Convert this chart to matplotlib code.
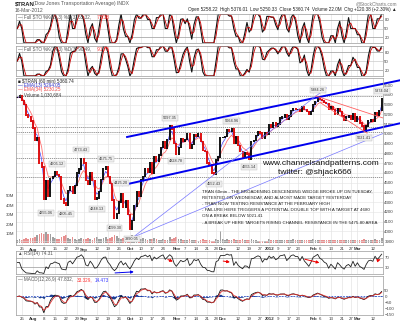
import numpy as np
import pandas as pd
import matplotlib
matplotlib.use('Agg')
import matplotlib.pyplot as plt

plt.rcParams['font.family'] = ['Liberation Sans', 'DejaVu Sans']

# $TRAN closes, one per trading day, 21-Jul-2011 .. 16-Mar-2012
jul = [5370, 5390, 5340, 5300, 5190, 5170, 5130]
aug = [5060, 4930, 4960, 4700, 4660, 4330, 4520, 4360, 4540, 4560, 4610, 4580,
       4560, 4330, 4290, 4270, 4420, 4460, 4390, 4470, 4600, 4640, 4740]
sep = [4700, 4520, 4480, 4600, 4520, 4330, 4340, 4410, 4530, 4640, 4660, 4560,
       4490, 4320, 4130, 4180, 4300, 4380, 4250, 4310, 4170]
oct_ = [4020, 4110, 4260, 4400, 4360, 4530, 4560, 4640, 4610, 4700, 4600, 4760,
        4720, 4780, 4860, 4920, 4850, 4940, 5080, 5050, 4900]
nov = [4790, 4860, 4950, 4920, 4940, 5000, 4850, 4890, 4990, 4970, 5000, 4920,
       4830, 4820, 4700, 4680, 4600, 4590, 4730, 4760, 4960]
dec = [4960, 4970, 5040, 5030, 5050, 4900, 4970, 4880, 4820, 4760, 4800, 4790,
       4740, 4920, 4930, 4980, 5020, 5010, 4950, 5010, 5000]
jan = [5090, 5070, 5110, 5080, 5100, 5160, 5170, 5190, 5150, 5180, 5240, 5260,
       5250, 5250, 5230, 5280, 5250, 5230, 5200, 5230]
feb = [5300, 5330, 5380, 5350, 5340, 5320, 5310, 5250, 5280, 5250, 5200, 5260,
       5230, 5180, 5140, 5170, 5180, 5150, 5200, 5130]
mar = [5170, 5110, 5080, 5030, 5080, 5130, 5140, 5130, 5220, 5190, 5240, 5360]
closes = jul + aug + sep + oct_ + nov + dec + jan + feb + mar

# volume per bar, millions
volume = ([3, 4, 3, 4, 5, 4, 5] +
          [5, 6, 8, 9, 11, 9, 12, 10, 9, 6, 5, 4, 4, 6, 7, 8, 5, 4, 6, 4, 3, 4, 5] +
          [4, 4, 5, 4, 3, 5, 6, 4, 4, 5, 6, 4, 5, 6, 8, 7, 5, 4, 5, 4, 6] +
          [7, 8, 6, 5, 4, 4, 5, 4, 3, 4, 4, 5, 4, 3, 3, 4, 3, 3, 6, 4, 5] +
          [6, 4, 4, 3, 3, 3, 4, 3, 3, 3, 2, 3, 4, 3, 3, 3, 2, 2, 4, 3, 13] +
          [4, 3, 4, 3, 3, 4, 3, 3, 3, 4, 3, 3, 3, 4, 3, 3, 2, 2, 2, 2, 2] +
          [4, 3, 3, 3, 3, 3, 3, 3, 3, 3, 3, 4, 3, 3, 3, 3, 3, 3, 3, 3] +
          [4, 3, 3, 3, 3, 3, 3, 3, 3, 3, 3, 3, 3, 3, 3, 3, 3, 3, 3, 3] +
          [3, 3, 3, 4, 3, 3, 3, 3, 4, 3, 3, 5])

holidays = ['2011-09-05', '2011-11-24', '2011-12-26', '2012-01-02', '2012-01-16', '2012-02-20']
days = pd.bdate_range('2011-07-21', '2012-03-16')
days = days[~days.isin(pd.to_datetime(holidays))]

tick_dates = ['2011-07-25', '2011-08-01', '2011-08-08', '2011-08-15', '2011-08-22', '2011-08-29',
              '2011-09-01', '2011-09-12', '2011-09-19', '2011-09-26', '2011-10-03', '2011-10-10',
              '2011-10-17', '2011-10-24', '2011-11-01', '2011-11-07', '2011-11-14', '2011-11-21',
              '2011-11-28', '2011-12-01', '2011-12-12', '2011-12-19', '2011-12-27', '2012-01-03',
              '2012-01-09', '2012-01-17', '2012-01-23', '2012-02-01', '2012-02-06', '2012-02-13',
              '2012-02-21', '2012-02-27', '2012-03-01', '2012-03-12']
tick_text = ['25', 'Aug', '8', '15', '22', '29', 'Sep', '12', '19', '26', 'Oct', '10', '17', '24',
             'Nov', '7', '14', '21', '28', 'Dec', '12', '19', '27', '2012', '9', '17', '23',
             'Feb', '6', '13', '21', '27', 'Mar', '12']

# chart annotations: (date, price, text, above?)
notes = [('2011-08-09', 4255, '4255.06', False), ('2011-08-16', 4620, '4605.12', True),
         ('2011-08-22', 4240, '4205.45', False), ('2011-08-31', 4773, '4773.43', True),
         ('2011-09-12', 4290, '4248.13', False), ('2011-09-16', 4680, '4675.75', True),
         ('2011-09-22', 4100, '4099.30', False), ('2011-09-27', 4425, '4425.20', True),
         ('2011-10-04', 3990, '3990.05', False), ('2011-10-27', 5097, '5097.35', True),
         ('2011-11-01', 4790, '4828.78', False), ('2011-11-25', 4552, '4552.43', False),
         ('2011-12-07', 5065, '5064.96', True), ('2011-12-19', 4720, '4655.14', False),
         ('2012-02-03', 5384, '5384.26', True), ('2012-03-06', 5021, '5021.41', False),
         ('2012-03-16', 5374, '5374.04', True)]
levels = [5384.26, 5064.96, 5021.41, 4751, 4552.43]

comment = ["TRAN 60min - THE BROADENING DESCENDING WEDGE BROKE UP ON TUESDAY,",
           "RETESTED ON WEDNESDAY, AND ALMOST MADE TARGET YESTERDAY",
           "- TRAN NOW TESTING RESISTANCE AT THE FEBRUARY HIGH",
           "- FAILURE HERE TRIGGERS A POTENTIAL DOUBLE TOP WITH A TARGET AT 4680",
           "ON A BREAK BELOW 5021.41",
           "- A BREAK UP HERE TARGETS RISING CHANNEL RESISTANCE IN THE 5475-80 AREA"]

# ---- indicators (hourly periods converted to daily bars, ~7 bars a day)
c = pd.Series(closes, dtype=float)
x = np.arange(len(c))
bpd = 7.0
def span(n):
    return 1 + (n - 1) / bpd

ema13 = c.ewm(span=span(13), adjust=False).mean()
ema34 = c.ewm(span=span(34), adjust=False).mean()

def stoch(s, n, ks, ds):
    lo = s.rolling(n, min_periods=1).min()
    hi = s.rolling(n, min_periods=1).max()
    raw = (100 * (s - lo) / (hi - lo).replace(0, np.nan)).fillna(50)
    k = raw.rolling(ks, min_periods=1).mean()
    return k, k.rolling(ds, min_periods=1).mean()

k1, d1 = stoch(c, 3, 2, 2)
k2, d2 = stoch(c, 5, 2, 2)

delta = c.diff().fillna(0)
up = delta.clip(lower=0).ewm(alpha=1 / 4, adjust=False).mean()
dn = (-delta.clip(upper=0)).ewm(alpha=1 / 4, adjust=False).mean()
rsi = 100 - 100 / (1 + up / dn.replace(0, np.nan))
rsi = rsi.fillna(50)

macd = c.ewm(span=span(12), adjust=False).mean() - c.ewm(span=span(26), adjust=False).mean()
sig = macd.ewm(span=span(9), adjust=False).mean()
hist = macd - sig

# ---- layout in pixels
W, H = 400, 323
fig = plt.figure(figsize=(4, 3.23), dpi=100)

def panel(l, t, r, b):
    ax = fig.add_axes([l / W, 1 - b / H, (r - l) / W, (b - t) / H])
    for s in ax.spines.values():
        s.set_color('#9a9a9a')
        s.set_linewidth(0.5)
    ax.set_xlim(-0.6, len(c) - 0.4)
    ax.tick_params(length=0, labelsize=3.2, colors='#444444', pad=1)
    ax.yaxis.tick_right()
    ax.set_xticks([days.get_loc(pd.Timestamp(d)) for d in tick_dates])
    ax.set_xticklabels([])
    ax.grid(axis='x', color='#dddddd', lw=0.4)
    ax.set_axisbelow(True)
    return ax

gray = '#555555'
fs = 3.3

def px(xp, yp):
    return xp / W, 1 - yp / H

# header
fig.text(*px(15, 4), '$TRAN', fontsize=4.2, fontweight='bold', va='center', color='#222222')
fig.text(*px(33, 4), '(Dow Jones Transportation Average) INDX', fontsize=3.6, va='center', color=gray)
fig.text(*px(15, 10), '16-Mar-2012', fontsize=3.6, va='center', color=gray)
fig.text(*px(397, 4), '@StockCharts.com', fontsize=3.4, va='center', ha='right', color='#777777')
fig.text(*px(397, 10), 'Open 5258.22  High 5376.01  Low 5250.33  Close 5360.74  Volume 22.0M  Chg +120.38 (+2.30%) \u25b2',
         fontsize=3.3, va='center', ha='right', color='#222222')

# stochastics
for (top, bot), k, d, lab, v1, v2 in [((14, 43), k1, d1, '\u2014 Full STO %K(15,3) %D(3) ', '65.32,', ' 75.18'),
                                        ((46, 76), k2, d2, '\u2014 Full STO %K(34,3) %D(3) ', '90.49,', ' 91.75')]:
    ax = panel(16, top, 383, bot)
    ax.set_ylim(0, 100)
    ax.set_yticks([20, 50, 80])
    for lv, col in [(20, '#999999'), (50, '#cccccc'), (80, '#999999')]:
        ax.axhline(lv, color=col, lw=0.5)
    ax.plot(x, k, color='#111111', lw=0.8)
    ax.plot(x, d, color='#cc0000', lw=0.6)
    fig.text(*px(18, top + 3.5), lab + v1, fontsize=fs, va='center', color=gray)
    fig.text(*px(96, top + 3.5), v2, fontsize=fs, va='center', color='#ff3333')

# main price panel
ax = panel(16, 78, 383, 245)
vax = ax.twinx()
ax.yaxis.tick_right()
ax.set_ylim(3859, 5572)
ax.set_yticks(np.arange(3900, 5501, 100))
ax.set_yticklabels([str(v) for v in range(3900, 5501, 100)])
ax.grid(axis='y', color='#e4e4e4', lw=0.4)
for lv in levels:
    ax.axhline(lv, color='#888888', lw=0.6, ls=(0, (1.5, 1)))

vax.set_ylim(-2.1, 173.7)
vax.yaxis.tick_left()
vax.set_yticks([10, 20, 30, 40, 50])
vax.set_yticklabels(['10M', '20M', '30M', '40M', '50M'])
vax.tick_params(length=0, labelsize=3.2, colors='#444444', pad=1)
for s in vax.spines.values():
    s.set_visible(False)
opens = c.shift(1).fillna(c.iloc[0])
vcol = np.where(c < opens, '#e89090', '#a0a0a0')
vax.bar(x, volume, width=0.8, color=vcol)
vax.set_zorder(ax.get_zorder() - 1)
ax.patch.set_visible(False)
vax.patch.set_visible(True)
vax.patch.set_facecolor('white')

ax.plot(x, ema34, color='#ff7070', lw=0.6)
ax.plot(x, ema13, color='#4040ff', lw=0.5)
ccol = np.where(c < opens, '#dd0000', '#000000')
ax.vlines(x, np.minimum(opens, c) - 8, np.maximum(opens, c) + 8, colors=ccol, lw=1.3)

def xi(d):
    return days.get_loc(pd.Timestamp(d))

# channel lines (extend past the right edge like the original)
ax.plot([49.7, 173.8], [4967, 5551], color='#0000ee', lw=1.4, clip_on=False)
ax.plot([47.9, 173.8], [4474, 5110], color='#0000ee', lw=1.4, clip_on=False)
ax.plot([52.5, 140], [3940, 5470], color='#7777ff', lw=0.5)
ax.plot([52.5, 166], [3940, 5007], color='#7777ff', lw=0.5)
ax.plot([135.2, 165.6], [5387, 5162], color='#ff6060', lw=0.6)
ax.plot([137.4, 158.4], [5316, 5006], color='#ff6060', lw=0.6)

for d, p, t, above in notes:
    ax.text(xi(d), p + (45 if above else -45), t, fontsize=2.8, ha='center',
            va='bottom' if above else 'top', color='#333333',
            bbox=dict(boxstyle='square,pad=0.25', fc='#eeeeee', ec='#bbbbbb', lw=0.3))

fig.text(*px(18, 81), '\u25a0 $TRAN (60 min) 5360.74', fontsize=fs, va='center', color='#222222')
fig.text(*px(18, 85.5), '\u2014 EMA(13) 5294.05', fontsize=fs, va='center', color='#3333cc')
fig.text(*px(18, 90), '\u2014 EMA(34) 5230.25', fontsize=fs, va='center', color='#ee4444')
fig.text(*px(18, 94.5), '\u25b2 Volume 1,030,684', fontsize=fs, va='center', color='#444444')

fig.text(*px(262, 163), 'www.channelsandpatterns.com', fontsize=6.0, va='center', color='#111111')
fig.text(*px(278, 172), 'twitter: @shjack666', fontsize=6.0, va='center', color='#111111')
for j, line in enumerate(comment):
    fig.text(*px(202, 192 + j * 6 + (1 if j == 5 else 0)), line, fontsize=3.2, va='center', color='#222222')

for t, lab in zip(tick_dates, tick_text):
    bold = not lab.isdigit() or lab == '2012'
    for yy in (249.5, 319):
        fig.text((16 + (xi(t) + 0.6) * 367 / (len(c))) / W, 1 - yy / H, lab, fontsize=3.2, ha='center',
                 va='center', color='#333333', fontweight='bold' if bold else 'normal')

# RSI
ax = panel(16, 251, 383, 274)
ax.set_ylim(0, 100)
ax.set_yticks([30, 70])
ax.axhline(70, color='#999999', lw=0.5)
ax.axhline(30, color='#999999', lw=0.5)
ax.plot(x, rsi, color='#222222', lw=0.6)
fig.text(*px(18, 254), '\u25b2 RSI(14) 74.31', fontsize=fs, va='center', color=gray)
for (a, b, r0, r1, col) in [(67, 71.6, 67, 50, '#ee0000'), (92, 97.5, 58, 50, '#ee0000'),
                             (129, 138, 67, 46, '#ee0000'), (163, 165.6, 58, 67, '#ee0000'),
                             (43, 54, 4, 10, '#0000ee')]:
    ax.annotate('', xy=(b, r1), xytext=(a, r0), annotation_clip=False,
                arrowprops=dict(arrowstyle='-|>', color=col, lw=0.7, mutation_scale=4))

# MACD
ax = panel(16, 276, 383, 315)
ax.set_ylim(-158, 175)
ax.set_yticks([-150, -100, -50, 0, 50])
ax.axhline(0, color='#3355cc', lw=0.6, ls=(0, (2, 1.5)))
ax.fill_between(x, 0, hist, color='#1a3c8c', lw=0)
ax.plot(x, macd, color='#111111', lw=0.6)
ax.plot(x, sig, color='#dd3333', lw=0.6)
fig.text(*px(18, 280), '\u2014 MACD(12,26,9) 47.832,', fontsize=fs, va='center', color=gray)
fig.text(*px(77, 280), '33.329,', fontsize=fs, va='center', color='#ff3333')
fig.text(*px(95, 280), '14.473', fontsize=fs, va='center', color='#3333ff')

fig.savefig('out.png', dpi=100)
